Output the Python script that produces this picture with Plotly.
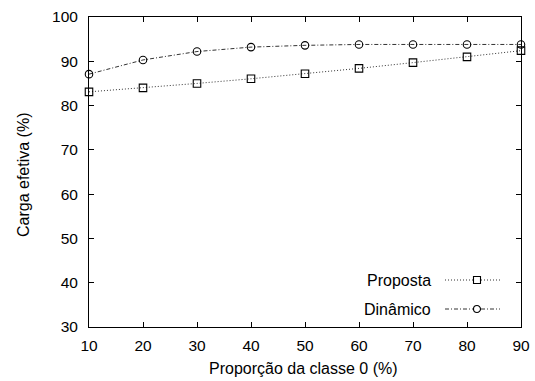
import plotly.graph_objects as go

x_vals = [10, 20, 30, 40, 50, 60, 70, 80, 90]
proposta = [83.1, 84.0, 85.0, 86.05, 87.2, 88.4, 89.7, 91.0, 92.4]
dinamico = [87.1, 90.3, 92.2, 93.2, 93.6, 93.8, 93.8, 93.8, 93.8]
x_ticks = [10, 20, 30, 40, 50, 60, 70, 80, 90]
y_ticks = [30, 40, 50, 60, 70, 80, 90, 100]
names = ["Proposta", "Dinâmico"]
x_title = "Proporção da classe 0 (%)"
y_title = "Carga efetiva (%)"

W, H = 535, 381
L, R, T, B = 89, 14, 17, 54

FAM = "Liberation Sans, Arial, Helvetica, sans-serif"
tick_font = dict(family=FAM, size=15.5, color="black")
font = dict(family=FAM, size=16, color="black")

fig = go.Figure()
fig.add_trace(go.Scatter(x=x_vals, y=proposta, name=names[0], mode="lines+markers",
                         line=dict(color="#333", width=1, dash="1px,2px"),
                         marker=dict(symbol="square-open", size=7.5, color="black", line=dict(width=1.1)),
                         cliponaxis=False))
fig.add_trace(go.Scatter(x=x_vals, y=dinamico, name=names[1], mode="lines+markers",
                         line=dict(color="#333", width=1, dash="4px,2px,1px,2px"),
                         marker=dict(symbol="circle-open", size=7.5, color="black", line=dict(width=1.1)),
                         cliponaxis=False))

axis_common = dict(showgrid=False, zeroline=False, showline=True, linecolor="black", linewidth=1,
                   mirror="ticks", ticks="inside", ticklen=5, tickcolor="black", tickwidth=1,
                   tickfont=tick_font, automargin=False)
fig.update_xaxes(range=[10, 90], tickvals=x_ticks, ticklabelstandoff=4, **axis_common)
fig.update_yaxes(range=[30, 100], tickvals=y_ticks, ticklabelstandoff=7, **axis_common)

pw = W - L - R
ph = H - T - B

def px(xp):
    return (xp - L) / pw

def py(yp):
    return 1 - (yp - T) / ph

shapes = []
annotations = [
    dict(xref="paper", yref="paper", x=px(303), y=py(368), text=x_title, showarrow=False,
         xanchor="center", yanchor="middle", font=font),
    dict(xref="paper", yref="paper", x=px(23), y=py(175), text=y_title, showarrow=False,
         xanchor="center", yanchor="middle", textangle=-90, font=font),
]
leg = [(280, "1px,2px", "square"), (309, "4px,2px,1px,2px", "circle")]
for (yy, dash, sym), nm in zip(leg, names):
    annotations.append(dict(xref="paper", yref="paper", x=px(433), y=py(yy), text=nm, showarrow=False,
                            xanchor="right", yanchor="middle", font=font))
    shapes.append(dict(type="line", xref="paper", yref="paper", x0=px(445), x1=px(500), y0=py(yy), y1=py(yy),
                       line=dict(color="#333", width=1, dash=dash)))
    kind = "rect" if sym == "square" else "circle"
    shapes.append(dict(type=kind, xref="paper", yref="paper", x0=px(473.5), x1=px(480.5),
                       y0=py(yy + 3.5), y1=py(yy - 3.5), line=dict(color="black", width=1.1), fillcolor="white"))

fig.update_layout(width=W, height=H, margin=dict(l=L, r=R, t=T, b=B),
                  paper_bgcolor="white", plot_bgcolor="white", showlegend=False,
                  font=font, shapes=shapes, annotations=annotations)

fig.write_html("out.html")
